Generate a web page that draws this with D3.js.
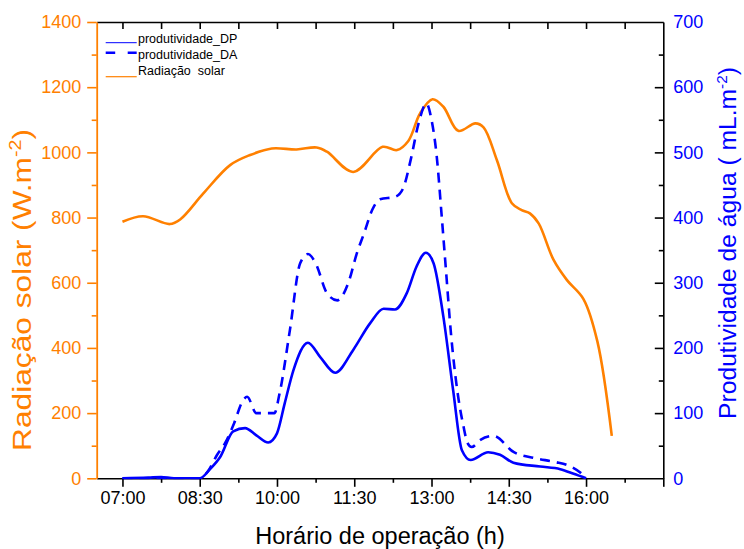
<!DOCTYPE html>
<html>
<head>
<meta charset="utf-8">
<script src="https://cdn.jsdelivr.net/npm/d3@7"></script>
<style>
  html, body { margin: 0; padding: 0; background: #fff; }
  svg { display: block; font-family: "Liberation Sans", Arial, sans-serif; }
</style>
</head>
<body>
<svg id="chart" width="744" height="549"></svg>
<script>
// ---------- DATA ----------
const radTime = [7.0, 7.4, 7.92, 8.12, 8.57, 9.09, 9.48, 9.9, 10.38, 10.77, 10.97, 11.48, 12.05, 12.33, 12.55, 12.78, 13.02, 13.23, 13.52, 13.85, 14.01, 14.27, 14.56, 14.75, 14.91, 15.08, 15.37, 15.63, 15.95, 16.22, 16.5];
const radValue = [787, 804, 780, 794, 874, 961, 992, 1012, 1009, 1015, 1002, 940, 1017, 1007, 1035, 1120, 1163, 1140, 1066, 1089, 1077, 976, 844, 823, 813, 782, 670, 608, 550, 420, 130];

const dpTime = [7.0, 7.5, 7.75, 8.0, 8.5, 8.7, 8.9, 9.15, 9.38, 9.6, 9.83, 10.0, 10.15, 10.32, 10.6, 10.84, 11.13, 11.48, 11.81, 12.07, 12.29, 12.52, 12.71, 12.89, 13.04, 13.23, 13.42, 13.59, 13.76, 14.1, 14.33, 14.59, 15.11, 15.5, 15.76, 16.0];
const dpValue = [0, 1, 2, 0, 0, 14, 33, 72, 77, 66, 55, 69, 115, 166, 208, 186, 162, 197, 238, 260, 259, 284, 325, 346, 330, 248, 135, 43, 28, 40, 36, 24, 18, 14, 7, 0];

const daTime = [7.0, 7.5, 8.0, 8.5, 8.67, 8.83, 9.0, 9.17, 9.33, 9.42, 9.6, 9.95, 10.05, 10.25, 10.45, 10.6, 10.75, 10.97, 11.17, 11.39, 11.55, 11.7, 11.85, 12.0, 12.3, 12.45, 12.6, 12.75, 12.9, 13.0, 13.1, 13.2, 13.28, 13.38, 13.5, 13.62, 13.7, 13.78, 13.95, 14.2, 14.6, 15.0, 15.4, 15.65, 15.9, 16.0];
const daValue = [0, 0, 0, 0, 12, 35, 55, 85, 118, 125, 100, 100, 130, 227, 330, 344, 330, 284, 273, 301, 345, 378, 412, 428, 432, 445, 490, 545, 575, 550, 495, 400, 320, 220, 135, 80, 54, 48, 59, 65, 40, 31, 25, 20, 8, 0];

const xMajorTicks = [7.0, 8.5, 10.0, 11.5, 13.0, 14.5, 16.0, 17.5];
const xMajorLabels = ["07:00", "08:30", "10:00", "11:30", "13:00", "14:30", "16:00", ""];
const xMinorTicks = [7.75, 9.25, 10.75, 12.25, 13.75, 15.25, 16.75];
const leftMajor = [0, 200, 400, 600, 800, 1000, 1200, 1400];
const leftMinor = [100, 300, 500, 700, 900, 1100, 1300];
const rightMajor = [0, 100, 200, 300, 400, 500, 600, 700];
const rightMinor = [50, 150, 250, 350, 450, 550, 650];

const legendLabels = ["produtividade_DP", "produtividade_DA", "Radiação  solar"];

// ---------- STYLE ----------
const ORANGE = "#FF8000";
const BLUE = "#0000FF";
const L = 96.7, R = 663.3, T = 22, B = 478.3;

const svg = d3.select("#chart");
const x = d3.scaleLinear().domain([6.5, 17.5]).range([L, R]);
const yL = d3.scaleLinear().domain([0, 1400]).range([B, T]);
const yR = d3.scaleLinear().domain([0, 700]).range([B, T]);

// ---------- AXES ----------
svg.append("g").attr("transform", `translate(0,${B})`)
  .call(d3.axisBottom(x).tickValues(xMinorTicks).tickSize(4.5).tickFormat("").tickSizeOuter(0))
  .call(g => g.select(".domain").remove())
  .call(g => g.selectAll("line").attr("stroke", "#000").attr("stroke-width", 1.6));
const gx = svg.append("g").attr("transform", `translate(0,${B})`)
  .call(d3.axisBottom(x).tickValues(xMajorTicks).tickSize(8.5).tickSizeOuter(0)
    .tickFormat((d, i) => xMajorLabels[i]));
gx.select(".domain").attr("stroke", "#000").attr("stroke-width", 1.6);
gx.selectAll("line").attr("stroke", "#000").attr("stroke-width", 1.6);
gx.selectAll("text").attr("font-size", 18).attr("fill", "#000").attr("font-family", "Liberation Sans, Arial, sans-serif").attr("y", 13).attr("dy", "0.71em");

svg.append("g").attr("transform", `translate(0,${T})`)
  .call(d3.axisBottom(x).tickValues(xMajorTicks.concat(xMinorTicks).filter(d => d < 17.5)).tickSize(7).tickFormat("").tickSizeOuter(0))
  .call(g => g.select(".domain").attr("stroke", "#000").attr("stroke-width", 1.6))
  .call(g => g.selectAll("line").attr("stroke", "#000").attr("stroke-width", 1.6));

svg.append("g").attr("transform", `translate(${L},0)`)
  .call(d3.axisLeft(yL).tickValues(leftMinor).tickSize(5).tickFormat("").tickSizeOuter(0))
  .call(g => g.select(".domain").remove())
  .call(g => g.selectAll("line").attr("stroke", ORANGE).attr("stroke-width", 1.6));
const gl = svg.append("g").attr("transform", `translate(${L},0)`)
  .call(d3.axisLeft(yL).tickValues(leftMajor).tickSize(9.5).tickSizeOuter(0).tickFormat(d3.format("d")));
gl.select(".domain").attr("stroke", ORANGE).attr("stroke-width", 1.8);
gl.selectAll("line").attr("stroke", ORANGE).attr("stroke-width", 1.6);
gl.selectAll("text").attr("font-size", 18).attr("fill", ORANGE).attr("x", -15.5);

svg.append("g").attr("transform", `translate(${R},0)`)
  .call(d3.axisLeft(yR).tickValues(rightMinor).tickSize(4.5).tickFormat("").tickSizeOuter(0))
  .call(g => g.select(".domain").remove())
  .call(g => g.selectAll("line").attr("stroke", "#000").attr("stroke-width", 1.6));
const gr = svg.append("g").attr("transform", `translate(${R},0)`)
  .call(d3.axisRight(yR).tickValues(rightMajor).tickSize(0).tickSizeOuter(0).tickFormat(d3.format("d")));
gr.select(".domain").attr("stroke", "#000").attr("stroke-width", 1.6);
gr.selectAll("text").attr("font-size", 18).attr("fill", BLUE).attr("x", 10);
svg.append("g").attr("transform", `translate(${R},0)`)
  .call(d3.axisLeft(yR).tickValues(rightMajor.filter(d => d > 0 && d < 700)).tickSize(8.5).tickFormat("").tickSizeOuter(0))
  .call(g => g.select(".domain").remove())
  .call(g => g.selectAll("line").attr("stroke", "#000").attr("stroke-width", 1.6));

// ---------- LINES ----------
svg.append("defs").append("clipPath").attr("id", "plotclip")
  .append("rect").attr("x", L).attr("y", T).attr("width", R - L).attr("height", B - T + 1);

const radData = radTime.map((t, i) => [t, radValue[i]]);
const dpData = dpTime.map((t, i) => [t, dpValue[i]]);
const daData = daTime.map((t, i) => [t, daValue[i]]);

const lineRad = d3.line().x(d => x(d[0])).y(d => yL(d[1])).curve(d3.curveCatmullRom.alpha(0.5));
const lineDP = d3.line().x(d => x(d[0])).y(d => yR(Math.max(0, d[1]))).curve(d3.curveMonotoneX);
const lineDA = d3.line().x(d => x(d[0])).y(d => yR(d[1])).curve(d3.curveMonotoneX);

const gLines = svg.append("g").attr("clip-path", "url(#plotclip)");
gLines.append("path").attr("d", lineRad(radData)).attr("fill", "none")
  .attr("stroke", ORANGE).attr("stroke-width", 2.6).attr("stroke-linejoin", "round");
gLines.append("path").attr("d", lineDA(daData)).attr("fill", "none")
  .attr("stroke", BLUE).attr("stroke-width", 2.6).attr("stroke-dasharray", "10,7");
gLines.append("path").attr("d", lineDP(dpData)).attr("fill", "none")
  .attr("stroke", BLUE).attr("stroke-width", 2.6).attr("stroke-linejoin", "round");

// ---------- LEGEND ----------
const lg = svg.append("g");
const lx0 = 105.7, lx1 = 136.7, tx = 138;
lg.append("line").attr("x1", lx0).attr("x2", lx1).attr("y1", 42.7).attr("y2", 42.7)
  .attr("stroke", BLUE).attr("stroke-width", 1);
lg.append("line").attr("x1", lx0).attr("x2", lx1).attr("y1", 52.7).attr("y2", 52.7)
  .attr("stroke", BLUE).attr("stroke-width", 2.6).attr("stroke-dasharray", "9.5,12.5");
lg.append("line").attr("x1", lx0).attr("x2", lx1).attr("y1", 76.7).attr("y2", 76.7)
  .attr("stroke", ORANGE).attr("stroke-width", 1.2);
[43, 59, 75].forEach((yy, i) => {
  lg.append("text").attr("x", tx).attr("y", yy).attr("font-size", 12.5).attr("fill", "#000")
    .attr("xml:space", "preserve").style("white-space", "pre").text(legendLabels[i]);
});

// ---------- TITLES ----------
svg.append("text").attr("x", (L + R) / 2).attr("y", 544).attr("text-anchor", "middle")
  .attr("font-size", 23.5).attr("fill", "#000").text("Horário de operação (h)");

function stretchedTitle(cx, cy, target, fs, color, main) {
  const t = svg.append("text").attr("text-anchor", "middle").attr("font-size", fs).attr("fill", color);
  t.append("tspan").text(main);
  t.append("tspan").attr("font-size", fs * 0.62).attr("dy", -fs * 0.38).text("-2");
  t.append("tspan").attr("dy", fs * 0.38).text(")");
  const len = t.node().getComputedTextLength() || target;
  t.attr("transform", `translate(${cx},${cy}) rotate(-90) scale(${target / len},1)`);
  return t;
}
stretchedTitle(31, 290, 322, 26, ORANGE, "Radiação solar (W.m");
stretchedTitle(736, 243, 352, 24.5, BLUE, "Produtividade de água ( mL.m");
</script>
</body>
</html>
